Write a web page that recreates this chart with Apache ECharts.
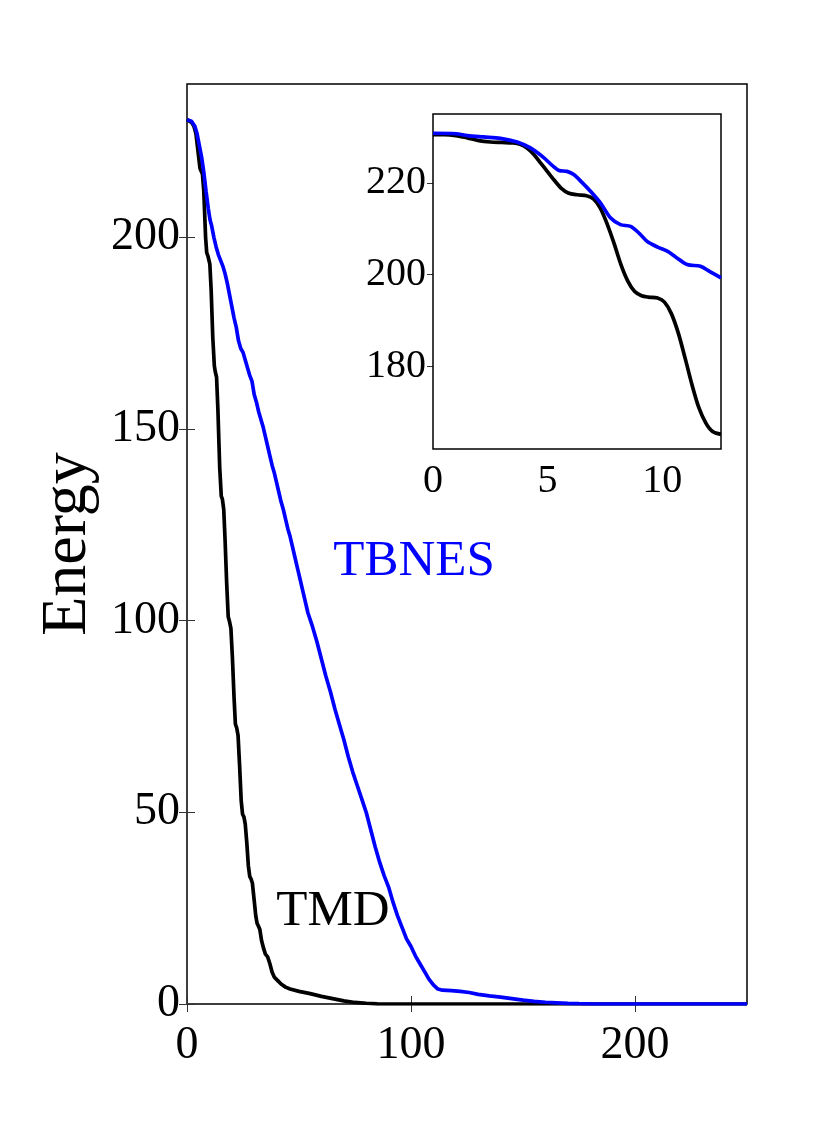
<!DOCTYPE html>
<html><head><meta charset="utf-8">
<script src="https://cdn.jsdelivr.net/npm/echarts@6/dist/echarts.min.js"></script>
<style>html,body{margin:0;padding:0;background:#fff}#c{width:825px;height:1132px}</style>
</head><body><div id="c"></div>
<script>
// ---- Main plot data ----
const tmdX = [0,2,3.1,4,5,5.8,6.3,6.9,7.5,8.3,8.8,9.4,10.2,10.8,11.5,12.2,12.6,13.2,13.8,14.6,15.3,15.8,16.4,17,17.7,18.4,19.0,19.6,20.3,21,21.6,22.2,22.8,23.5,24.2,24.8,25.4,26,26.7,27.4,28,28.6,29.2,30,30.7,31.3,31.9,32.5,33.3,34.2,35,36,37,38,39,40.5,42,44,46,50,55,60,65,70,75,80,85,90,100,250];
const tmdY = [230.7,230,229,227,222,218,217.3,216.5,212,200,196,195,193,186,174,166.5,165,163.5,155,140,132.5,131.7,129,121,110,101,99.7,98,90,80,73,72,70,62,53,49.5,48.8,47,42,36,33.3,32.6,31.5,27,23,21,20.3,19.5,16.5,14.5,13,12.3,10.5,8.3,7,6.1,5.2,4.4,3.9,3.3,2.7,2.0,1.4,0.8,0.4,0.2,0.05,0,0,0];
const tbnesX = [0,2,3.5,4.5,5.5,6.5,7.5,8.5,9.5,10.3,11,12,13,14,15,16,17,18,19,20,21,22,23,24,25,26,27,28,29,30,31,32,33,34,35,36,37,38,39,40,41,42,43,44,45,46,47,48,49,50,52,54,56,58,60,62,64,66,68,70,72,74,76,78,80,82,84,86,88,90,92,94,96,98,100,102,104,106,108,110,112,114,118,122,126,130,135,140,145,150,155,160,165,170,175,180,190,250];
const tbnesY = [230.7,230.3,229,227,224,221,217,212,207.5,204.5,203,200,197.5,195.5,194,192.5,190.5,188,185,182,179,176.5,173,171,170,168,166,164,162.5,159,157,154.5,152.5,150.5,148,145.5,143,140.5,138.5,136,133.5,131,129,126.5,124,122,119.5,117,114.5,112,107,102,98.5,94.5,90,85.5,81.5,77,73,69,64.5,60.5,57,53.5,50,45.5,41,37,33.5,30.5,26.5,23,20,17,15,12.5,10.5,8.5,6.5,5,3.9,3.6,3.5,3.3,3,2.5,2.1,1.8,1.4,1.0,0.7,0.45,0.3,0.15,0.08,0.03,0,0];
// ---- Inset data ----
const insetTmdX = [0,0.5,1.0,1.5,2.0,2.5,3.0,3.5,3.8,4.1,4.4,4.7,5.0,5.3,5.6,5.9,6.3,6.7,7.0,7.3,7.6,7.9,8.2,8.5,8.8,9.1,9.4,9.8,10.1,10.4,10.7,11.0,11.3,11.6,11.9,12.2,12.566];
const insetTmdY = [230.5,230.5,230.3,229.8,229.2,228.9,228.8,228.7,228.4,227.6,226.2,224.3,222.4,220.5,218.8,217.8,217.4,217.2,216.5,214.5,211,206.8,202.2,198.6,196.3,195.4,195.1,194.9,194,191.5,187.3,181.8,176,171,167.7,165.8,165.2];
const insetTbnesX = [0,1.0,1.5,2.2,2.94,3.67,4.25,4.83,5.2,5.5,5.85,6.14,6.5,6.9,7.31,7.74,8.18,8.62,9.0,9.35,9.8,10.22,10.6,11.09,11.67,12.1,12.566];
const insetTbnesY = [230.8,230.7,230.3,230,229.7,228.9,227.6,225.5,223.8,222.7,222.5,221.8,220.1,218,215.6,212.4,210.9,210.5,209,207.2,206,205.1,203.8,202.2,201.8,200.6,199.3];
// ---- Ticks ----
const mainXTicks = [0,100,200];
const mainYTicks = [0,50,100,150,200];
const insetXTicks = [0,5,10];
const insetYTicks = [180,200,220];

const pairs = (xs, ys) => xs.map((x,i)=>[x, ys[i]]);
const FONT = '"Liberation Serif","Times New Roman",serif';

function axis(opts){
  const {grid,min,max,ticks,position,labels,fontSize,margin,tickLen} = opts;
  return {
    type:'value', gridIndex:grid, min:min, max:max, position:position,
    axisLine:{show:false},
    splitLine:{show:false},
    axisTick:{show:true, inside:true, length:tickLen, customValues:ticks, lineStyle:{color:'#333', width:1}},
    axisLabel:{show:labels, customValues:ticks, fontSize:fontSize, fontFamily:FONT, color:'#000', margin:margin},
    name: opts.name || '', nameLocation:'middle', nameGap: opts.nameGap || 0, nameRotate: opts.nameRotate,
    nameTextStyle:{fontSize: opts.nameSize || 12, fontFamily:FONT, color:'#000'}
  };
}

const chart = echarts.init(document.getElementById('c'), null, {renderer:'canvas'});
chart.setOption({
  backgroundColor:'#fff',
  animation:false,
  grid:[
    {left:187, top:84, width:560, height:920, show:true, borderColor:'#000', borderWidth:1.5, backgroundColor:'transparent'},
    {left:433, top:114, width:288, height:335, show:true, borderColor:'#000', borderWidth:1.5, backgroundColor:'#fff', z:5}
  ],
  xAxis:[
    axis({grid:0,min:0,max:250,ticks:mainXTicks,position:'bottom',labels:true,fontSize:46,margin:19,tickLen:8}),
    axis({grid:0,min:0,max:250,ticks:mainXTicks,position:'top',labels:false,fontSize:46,margin:15,tickLen:8}),
    axis({grid:1,min:0,max:12.566,ticks:insetXTicks,position:'bottom',labels:true,fontSize:40,margin:12,tickLen:6}),
    axis({grid:1,min:0,max:12.566,ticks:insetXTicks,position:'top',labels:false,fontSize:40,margin:11,tickLen:6})
  ],
  yAxis:[
    axis({grid:0,min:0,max:240,ticks:mainYTicks,position:'left',labels:true,fontSize:46,margin:7,tickLen:8,name:'Energy',nameGap:86,nameRotate:90,nameSize:64}),
    axis({grid:0,min:0,max:240,ticks:mainYTicks,position:'right',labels:false,fontSize:46,margin:7,tickLen:8}),
    axis({grid:1,min:162,max:235,ticks:insetYTicks,position:'left',labels:true,fontSize:40,margin:7,tickLen:6}),
    axis({grid:1,min:162,max:235,ticks:insetYTicks,position:'right',labels:false,fontSize:40,margin:7,tickLen:6})
  ],
  series:[
    {name:'TMD', type:'line', xAxisIndex:0, yAxisIndex:0, data:pairs(tmdX,tmdY), showSymbol:false, lineStyle:{color:'#000', width:3.7}, z:3},
    {name:'TBNES', type:'line', xAxisIndex:0, yAxisIndex:0, data:pairs(tbnesX,tbnesY), showSymbol:false, lineStyle:{color:'#0000ff', width:3.7}, z:4},
    {name:'TMD inset', type:'line', xAxisIndex:2, yAxisIndex:2, data:pairs(insetTmdX,insetTmdY), showSymbol:false, smooth:0.3, lineStyle:{color:'#000', width:3.7}, z:6},
    {name:'TBNES inset', type:'line', xAxisIndex:2, yAxisIndex:2, data:pairs(insetTbnesX,insetTbnesY), showSymbol:false, smooth:0.3, lineStyle:{color:'#0000ff', width:3.7}, z:7}
  ],
  graphic:[
    {type:'text', x:414, y:562, style:{text:'TBNES', fill:'#0000ff', font:'51px ' + FONT, align:'center', verticalAlign:'middle'}},
    {type:'text', x:333, y:912, style:{text:'TMD', fill:'#000', font:'51px ' + FONT, align:'center', verticalAlign:'middle'}}
  ]
});
</script>
</body></html>
